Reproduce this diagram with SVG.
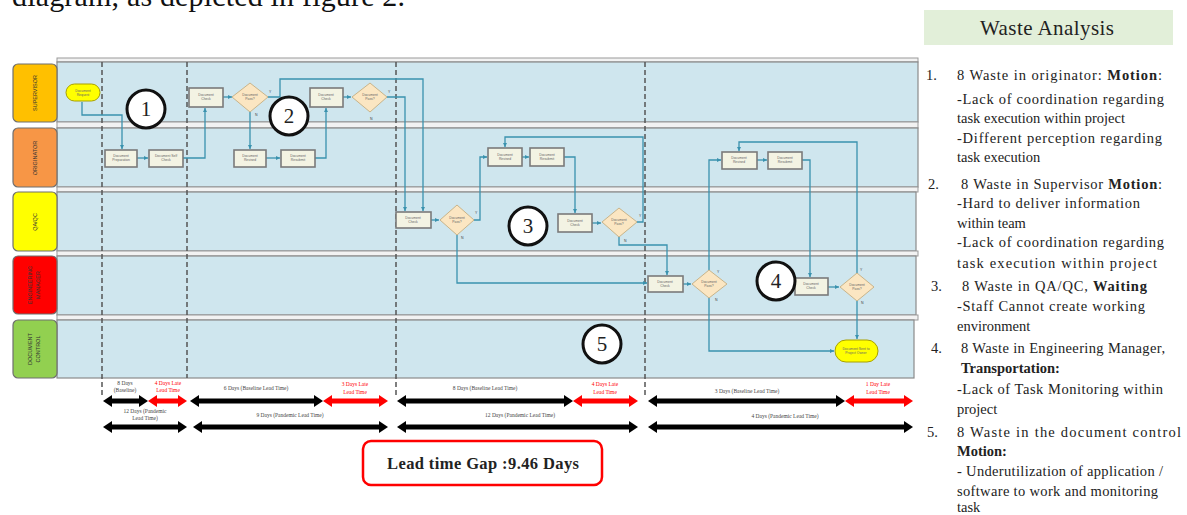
<svg xmlns="http://www.w3.org/2000/svg" width="1187" height="515" viewBox="0 0 1187 515">
<style>
.lane{fill:#cfe6ee;stroke:#8a8a8a;stroke-width:1.2}
.sep{fill:#f2f2f2;stroke:#9a9a9a;stroke-width:1}
.lbl{stroke:#6f6f6f;stroke-width:1.2}
.lt{font-family:"Liberation Sans",Arial,sans-serif;font-size:5.5px;fill:#333;text-anchor:middle}
.dash{stroke:#555;stroke-width:1.5;stroke-dasharray:5 3;fill:none}
.box{fill:#f3f3e3;stroke:#7a7a7a;stroke-width:1.6}
.dia{fill:#fbe6c2;stroke:#c9b48a;stroke-width:1}
.term{fill:#ffff00;stroke:#a8a000;stroke-width:1}
.nt{font-family:"Liberation Sans",Arial,sans-serif;font-size:3.4px;fill:#666;text-anchor:middle}
.yn{font-family:"Liberation Sans",Arial,sans-serif;font-size:3.5px;fill:#444}
.con{fill:none;stroke:#3a92ae;stroke-width:1.3;marker-end:url(#ah)}
.num{fill:#fff;stroke:#111;stroke-width:3}
.nn{font-family:"Liberation Serif","Times New Roman",serif;font-size:21px;fill:#222;text-anchor:middle}
.tl{stroke-width:5;marker-start:url(#bh);marker-end:url(#bh)}
.blk{stroke:#000}
.red{stroke:#f00;marker-start:url(#rh);marker-end:url(#rh)}
.tt{font-family:"Liberation Serif","Times New Roman",serif;font-size:5.5px;fill:#444;text-anchor:middle}
.tr{fill:#f00}
.rt{font-family:"Liberation Serif","Times New Roman",serif;font-size:14.5px;fill:#222}
.b{font-weight:bold}
</style>
<defs>
<marker id="ah" viewBox="0 0 6 6" refX="6" refY="3" markerWidth="4" markerHeight="4" markerUnits="userSpaceOnUse" orient="auto"><path d="M0,0 L6,3 L0,6 z" fill="#3a92ae"/></marker>
<marker id="bh" viewBox="0 0 9 12" refX="0" refY="6" markerWidth="9" markerHeight="12" markerUnits="userSpaceOnUse" orient="auto-start-reverse"><path d="M0,0 L9,6 L0,12 z" fill="#000"/></marker>
<marker id="rh" viewBox="0 0 9 12" refX="0" refY="6" markerWidth="9" markerHeight="12" markerUnits="userSpaceOnUse" orient="auto-start-reverse"><path d="M0,0 L9,6 L0,12 z" fill="#f00"/></marker>
</defs>
<rect width="1187" height="515" fill="#fff"/>
<text x="12" y="6" font-family="Liberation Serif,'Times New Roman',serif" font-size="30" fill="#111" textLength="393">diagram, as depicted in figure 2.</text>

<g id="lanes">
<rect class="sep" x="57" y="58" width="861" height="4"/>
<rect class="lane" x="57" y="62" width="861" height="60"/>
<rect class="sep" x="57" y="122" width="861" height="6"/>
<rect class="lane" x="57" y="128" width="861" height="59"/>
<rect class="sep" x="57" y="187" width="861" height="5"/>
<rect class="lane" x="57" y="192" width="859" height="59"/>
<rect class="sep" x="57" y="251" width="861" height="5"/>
<rect class="lane" x="57" y="256" width="859" height="59"/>
<rect class="sep" x="57" y="315" width="861" height="5"/>
<rect class="lane" x="57" y="320" width="857" height="58"/>
</g>
<g id="lane-labels">
<rect class="lbl" x="13" y="64" width="44" height="58" rx="5" fill="#ffc000"/>
<text class="lt" transform="translate(37,93) rotate(-90)">SUPERVISOR</text>
<rect class="lbl" x="13" y="128" width="44" height="59" rx="5" fill="#f79646"/>
<text class="lt" transform="translate(37,158) rotate(-90)">ORIGINATOR</text>
<rect class="lbl" x="13" y="192" width="44" height="59" rx="5" fill="#ffff00"/>
<text class="lt" transform="translate(37,222) rotate(-90)">QA/QC</text>
<rect class="lbl" x="13" y="256" width="44" height="58" rx="5" fill="#ff0000"/>
<text class="lt" transform="translate(32,285) rotate(-90)">ENGINEERING</text>
<text class="lt" transform="translate(40,285) rotate(-90)">MANAGER</text>
<rect class="lbl" x="13" y="320" width="44" height="58" rx="5" fill="#92d050"/>
<text class="lt" transform="translate(32,349) rotate(-90)">DOCUMENT</text>
<text class="lt" transform="translate(40,349) rotate(-90)">CONTROL</text>
</g>
<g id="dividers">
<line class="dash" x1="102" y1="62" x2="102" y2="396"/>
<line class="dash" x1="187" y1="62" x2="187" y2="378"/>
<line class="dash" x1="396" y1="62" x2="396" y2="396"/>
<line class="dash" x1="645" y1="62" x2="645" y2="396"/>
</g>

<g id="connectors">
<path class="con" d="M82,102 V115 H122 V149"/>
<path class="con" d="M137,158 H148"/>
<path class="con" d="M183,158 H205 V108"/>
<path class="con" d="M223,97 H232"/>
<path class="con" d="M250,112 V149"/>
<path class="con" d="M266,158 H280"/>
<path class="con" d="M315,158 H326 V108"/>
<path class="con" d="M342,97 H351"/>
<path class="con" d="M268,97 H280 V79 H423 V211"/>
<path class="con" d="M387,97 H405 V211"/>
<path class="con" d="M431,220 H439"/>
<path class="con" d="M474,220 H480 V157 H487"/>
<path class="con" d="M457,235 V283 H647"/>
<path class="con" d="M522,157 H529"/>
<path class="con" d="M564,157 H575 V213"/>
<path class="con" d="M592,223 H601"/>
<path class="con" d="M637,222 H643 V137 H505 V147"/>
<path class="con" d="M619,237 V245 H667 V275"/>
<path class="con" d="M683,284 H691"/>
<path class="con" d="M709,270 V160 H721"/>
<path class="con" d="M709,298 V351 H834"/>
<path class="con" d="M757,160 H767"/>
<path class="con" d="M802,160 H810 V277"/>
<path class="con" d="M828,287 H839"/>
<path class="con" d="M857,273 V142 H739 V151"/>
<path class="con" d="M857,301 V339"/>
<text class="yn" x="269" y="93">Y</text><text class="yn" x="255" y="116">N</text>
<text class="yn" x="388" y="93">Y</text><text class="yn" x="370" y="120">N</text>
<text class="yn" x="475" y="214">Y</text><text class="yn" x="461" y="239">N</text>
<text class="yn" x="639" y="217">Y</text><text class="yn" x="624" y="242">N</text>
<text class="yn" x="717" y="273">Y</text><text class="yn" x="715" y="301">N</text>
<text class="yn" x="860" y="271">Y</text><text class="yn" x="861" y="304">N</text>
</g>

<g id="n-start"><rect class="term" x="66" y="84" width="34" height="17" rx="8.5"/><text class="nt" x="83" y="92">Document</text><text class="nt" x="83" y="96">Request</text></g>
<g id="n-sup-check1"><rect class="box" x="189" y="88" width="34" height="19"/><text class="nt" x="206" y="96">Document</text><text class="nt" x="206" y="100">Check</text></g>
<g id="n-sup-dec1"><polygon class="dia" points="250,83 268,97 250,112 232,97"/><text class="nt" x="250" y="96">Document</text><text class="nt" x="250" y="100">Pass?</text></g>
<g id="n-sup-check2"><rect class="box" x="310" y="88" width="33" height="19"/><text class="nt" x="326" y="96">Document</text><text class="nt" x="326" y="100">Check</text></g>
<g id="n-sup-dec2"><polygon class="dia" points="370,83 387,97 370,112 352,97"/><text class="nt" x="370" y="96">Document</text><text class="nt" x="370" y="100">Pass?</text></g>

<g id="n-org-prep"><rect class="box" x="105" y="150" width="32" height="17"/><text class="nt" x="121" y="157">Document</text><text class="nt" x="121" y="161">Preparation</text></g>
<g id="n-org-self"><rect class="box" x="149" y="150" width="34" height="17"/><text class="nt" x="166" y="157">Document Self</text><text class="nt" x="166" y="161">Check</text></g>
<g id="n-org-rev1"><rect class="box" x="234" y="150" width="32" height="17"/><text class="nt" x="250" y="157">Document</text><text class="nt" x="250" y="161">Revised</text></g>
<g id="n-org-res1"><rect class="box" x="281" y="150" width="34" height="17"/><text class="nt" x="298" y="157">Document</text><text class="nt" x="298" y="161">Resubmit</text></g>
<g id="n-org-rev2"><rect class="box" x="488" y="148" width="34" height="18"/><text class="nt" x="505" y="156">Document</text><text class="nt" x="505" y="160">Revised</text></g>
<g id="n-org-res2"><rect class="box" x="530" y="148" width="34" height="18"/><text class="nt" x="547" y="156">Document</text><text class="nt" x="547" y="160">Resubmit</text></g>
<g id="n-org-rev3"><rect class="box" x="722" y="152" width="35" height="17"/><text class="nt" x="739" y="159">Document</text><text class="nt" x="739" y="163">Revised</text></g>
<g id="n-org-res3"><rect class="box" x="768" y="152" width="34" height="17"/><text class="nt" x="785" y="159">Document</text><text class="nt" x="785" y="163">Resubmit</text></g>

<g id="n-qa-check1"><rect class="box" x="396" y="212" width="35" height="16"/><text class="nt" x="413" y="219">Document</text><text class="nt" x="413" y="223">Check</text></g>
<g id="n-qa-dec1"><polygon class="dia" points="457,205 474,220 457,235 440,220"/><text class="nt" x="457" y="219">Document</text><text class="nt" x="457" y="223">Pass?</text></g>
<g id="n-qa-check2"><rect class="box" x="558" y="214" width="34" height="18"/><text class="nt" x="575" y="222">Document</text><text class="nt" x="575" y="226">Check</text></g>
<g id="n-qa-dec2"><polygon class="dia" points="619,208 637,222 619,237 602,222"/><text class="nt" x="619" y="221">Document</text><text class="nt" x="619" y="225">Pass?</text></g>

<g id="n-em-check1"><rect class="box" x="648" y="276" width="35" height="16"/><text class="nt" x="665" y="283">Document</text><text class="nt" x="665" y="287">Check</text></g>
<g id="n-em-dec1"><polygon class="dia" points="709,270 727,284 709,298 692,284"/><text class="nt" x="709" y="283">Document</text><text class="nt" x="709" y="287">Pass?</text></g>
<g id="n-em-check2"><rect class="box" x="795" y="278" width="33" height="17"/><text class="nt" x="811" y="285">Document</text><text class="nt" x="811" y="289">Check</text></g>
<g id="n-em-dec2"><polygon class="dia" points="857,273 874,287 857,301 840,287"/><text class="nt" x="857" y="286">Document</text><text class="nt" x="857" y="290">Pass?</text></g>

<g id="n-end"><rect class="term" x="835" y="340" width="43" height="22" rx="11"/><text class="nt" x="856" y="350">Document Sent to</text><text class="nt" x="856" y="354">Project Owner</text></g>

<g id="markers-num">
<circle class="num" cx="146" cy="109" r="19"/><text class="nn" x="146" y="116">1</text>
<circle class="num" cx="289" cy="116" r="19"/><text class="nn" x="289" y="123">2</text>
<circle class="num" cx="528" cy="226" r="19"/><text class="nn" x="528" y="233">3</text>
<circle class="num" cx="776" cy="281" r="19"/><text class="nn" x="776" y="288">4</text>
<circle class="num" cx="602" cy="344" r="19"/><text class="nn" x="602" y="351">5</text>
</g>

<g id="timeline">
<line class="tl blk" x1="112" y1="401" x2="139" y2="401"/>
<line class="tl red" x1="157" y1="401" x2="178" y2="401"/>
<line class="tl blk" x1="199" y1="401" x2="314" y2="401"/>
<line class="tl red" x1="332" y1="401" x2="379" y2="401"/>
<line class="tl blk" x1="406" y1="401" x2="564" y2="401"/>
<line class="tl red" x1="582" y1="401" x2="629" y2="401"/>
<line class="tl blk" x1="657" y1="401" x2="836" y2="401"/>
<line class="tl red" x1="854" y1="401" x2="904" y2="401"/>
<line class="tl blk" x1="112" y1="427" x2="178" y2="427"/>
<line class="tl blk" x1="202" y1="427" x2="379" y2="427"/>
<line class="tl blk" x1="406" y1="427" x2="629" y2="427"/>
<line class="tl blk" x1="657" y1="427" x2="904" y2="427"/>
<text class="tt" x="125" y="385">8 Days</text><text class="tt" x="125" y="392">(Baseline)</text>
<text class="tt tr" x="168" y="385">4 Days Late</text><text class="tt tr" x="168" y="392">Lead Time</text>
<text class="tt" x="256" y="390">6 Days (Baseline Lead Time)</text>
<text class="tt tr" x="355" y="386">3 Days Late</text><text class="tt tr" x="355" y="394">Lead Time</text>
<text class="tt" x="485" y="390">8 Days (Baseline Lead Time)</text>
<text class="tt tr" x="605" y="386">4 Days Late</text><text class="tt tr" x="605" y="394">Lead Time</text>
<text class="tt" x="747" y="393">3 Days (Baseline Lead Time)</text>
<text class="tt tr" x="878" y="386">1 Day Late</text><text class="tt tr" x="878" y="394">Lead Time</text>
<text class="tt" x="145" y="413">12 Days (Pandemic</text><text class="tt" x="145" y="420">Lead Time)</text>
<text class="tt" x="290" y="417">9 Days (Pandemic Lead Time)</text>
<text class="tt" x="520" y="417">12 Days (Pandemic Lead Time)</text>
<text class="tt" x="785" y="418">4 Days (Pandemic Lead Time)</text>
</g>

<g id="gap-box">
<rect x="363" y="441" width="239" height="44" rx="8" fill="#fff" stroke="#f00" stroke-width="2.5"/>
<text x="387" y="469" font-family="Liberation Serif,'Times New Roman',serif" font-size="16.5" font-weight="bold" fill="#222" textLength="192">Lead time Gap :9.46 Days</text>
</g>

<g id="waste-analysis">
<rect x="924" y="10" width="249" height="35" fill="#e2efd9"/>
<text x="980" y="35" font-family="Liberation Serif,'Times New Roman',serif" font-size="21" fill="#222" textLength="134">Waste Analysis</text>
<text class="rt" x="926" y="80">1.</text>
<text class="rt" x="957" y="80" textLength="205">8 Waste in originator: <tspan class="b">Motion</tspan>:</text>
<text class="rt" x="957" y="104" textLength="207">-Lack of coordination regarding</text>
<text class="rt" x="957" y="123">task execution within project</text>
<text class="rt" x="957" y="143" textLength="205">-Different perception regarding</text>
<text class="rt" x="957" y="162">task execution</text>
<text class="rt" x="928" y="189">2.</text>
<text class="rt" x="961" y="189" textLength="201">8 Waste in Supervisor <tspan class="b">Motion</tspan>:</text>
<text class="rt" x="957" y="208" textLength="183">-Hard to deliver information</text>
<text class="rt" x="957" y="228">within  team</text>
<text class="rt" x="957" y="247" textLength="207">-Lack of coordination regarding</text>
<text class="rt" x="957" y="268" textLength="200">task execution within project</text>
<text class="rt" x="931" y="291">3.</text>
<text class="rt" x="962" y="291" textLength="185">8 Waste in QA/QC, <tspan class="b">Waiting</tspan></text>
<text class="rt" x="957" y="311" textLength="188">-Staff Cannot create working</text>
<text class="rt" x="957" y="331">environment</text>
<text class="rt" x="931" y="353">4.</text>
<text class="rt" x="961" y="353" textLength="204">8 Waste in Engineering Manager,</text>
<text class="rt b" x="961" y="373">Transportation:</text>
<text class="rt" x="957" y="394" textLength="206">-Lack of Task Monitoring within</text>
<text class="rt" x="957" y="414">project</text>
<text class="rt" x="927" y="437">5.</text>
<text class="rt" x="957" y="437" textLength="224">8 Waste in the document control</text>
<text class="rt b" x="957" y="456">Motion:</text>
<text class="rt" x="957" y="476" textLength="206">- Underutilization of application /</text>
<text class="rt" x="957" y="496" textLength="201">software to work and monitoring</text>
<text class="rt" x="957" y="512">task</text>
</g>
</svg>
